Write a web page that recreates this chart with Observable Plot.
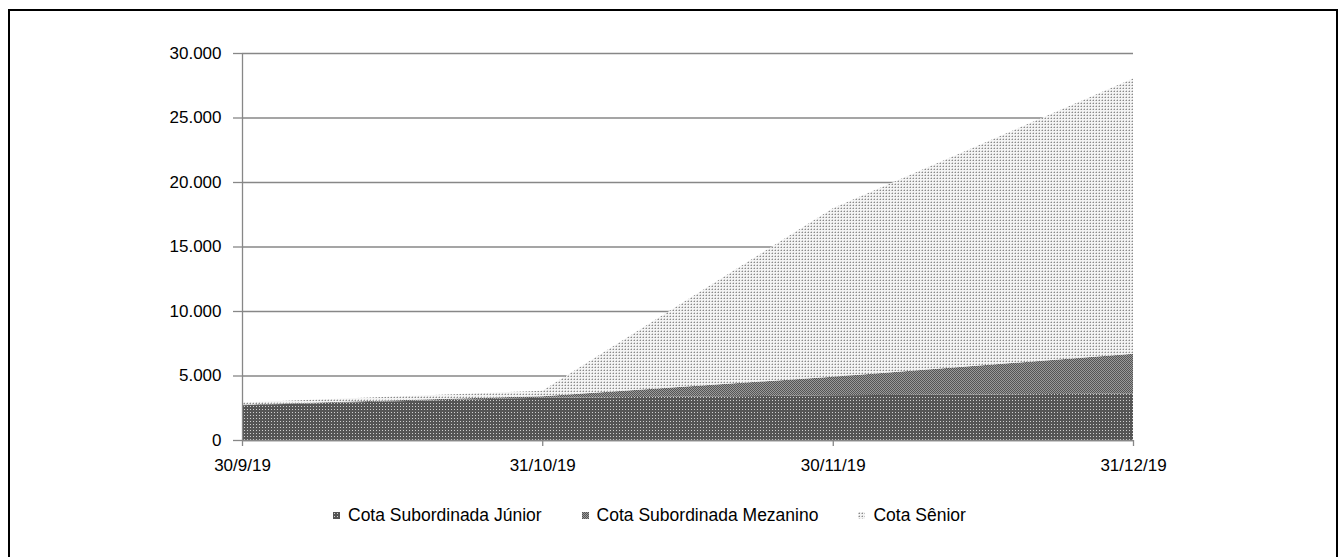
<!DOCTYPE html>
<html><head><meta charset="utf-8">
<script src="https://cdn.jsdelivr.net/npm/d3@7"></script>
<script src="https://cdn.jsdelivr.net/npm/@observablehq/plot@0.6"></script>
<style>
body{margin:0;background:#fff;font-family:"Liberation Sans",Arial,sans-serif;}
#wrap{position:relative;width:1338px;height:557px;overflow:hidden;background:#fff}
#frame{position:absolute;left:8px;top:9px;width:1326px;height:560px;border:2px solid #000;}
#chart{position:absolute;left:0;top:0}
#legend{position:absolute;top:505px;left:333px;display:flex;gap:40px;font-size:17.5px;color:#000;line-height:20px;white-space:nowrap}
.item{display:flex;align-items:center;gap:8px}
.item svg{display:block}
</style></head>
<body>
<svg width="0" height="0" style="position:absolute">
  <defs>
    <pattern id="pJ" width="3" height="3" patternUnits="userSpaceOnUse">
      <rect width="3" height="3" fill="#555555"/>
      <rect x="1" y="1" width="1" height="1" fill="#cfcfcf"/>
    </pattern>
    <pattern id="pM" width="2" height="2" patternUnits="userSpaceOnUse">
      <rect width="2" height="2" fill="#9a9a9a"/>
      <rect x="0" y="0" width="1" height="1" fill="#555555"/>
      <rect x="1" y="1" width="1" height="1" fill="#555555"/>
    </pattern>
    <pattern id="pS" width="3" height="3" patternUnits="userSpaceOnUse">
      <rect width="3" height="3" fill="#f4f4f4"/>
      <rect x="1" y="1" width="1" height="1" fill="#8a8a8a"/>
      <rect x="0" y="1" width="1" height="1" fill="#c4c4c4"/>
      <rect x="1" y="0" width="1" height="1" fill="#d0d0d0"/>
    </pattern>
  </defs>
</svg>
<div id="wrap">
  <div id="frame"></div>
  <div id="chart"></div>
  <div id="legend"></div>
</div>
<script>
// ---- data ----
const dates = ["2019-09-30", "2019-10-31", "2019-11-30", "2019-12-31"];
const xTickLabels = ["30/9/19", "31/10/19", "30/11/19", "31/12/19"];
const series = ["Cota Subordinada Júnior", "Cota Subordinada Mezanino", "Cota Sênior"];
const junior   = [2700, 3280, 3460, 3600];
const mezanino = [50, 120, 1450, 3080];
const senior   = [150, 420, 13050, 21350];
const yTicks = [0, 5000, 10000, 15000, 20000, 25000, 30000];
const patterns = ["url(#pJ)", "url(#pM)", "url(#pS)"];

const parse = d3.utcParse("%Y-%m-%d");
const xDates = dates.map(parse);
const cols = [junior, mezanino, senior];
const data = series.flatMap((s, i) => xDates.map((d, j) => ({date: d, serie: s, value: cols[i][j]})));
const fmt = d3.formatLocale({decimal: ",", thousands: ".", grouping: [3], currency: ["R$", ""]}).format(",d");
const xfmt = d => xTickLabels[xDates.findIndex(x => +x === +d)];
const gray = "#878787";

const chart = Plot.plot({
  width: 1338, height: 480,
  marginLeft: 242, marginRight: 205, marginTop: 53, marginBottom: 40,
  style: {fontFamily: '"Liberation Sans", Arial, sans-serif', fontSize: "17px", color: "#000", background: "transparent"},
  x: {type: "utc", domain: [xDates[0], xDates[xDates.length - 1]]},
  y: {domain: [0, 30000]},
  color: {domain: series, range: patterns},
  marks: [
    Plot.gridY(yTicks, {stroke: gray, strokeOpacity: 1, strokeWidth: 1.3}),
    Plot.areaY(data, {x: "date", y: "value", z: "serie", fill: "serie"}),
    Plot.ruleX([xDates[0]], {stroke: gray, strokeWidth: 1.3}),
    Plot.ruleY([0], {stroke: gray, strokeWidth: 1.3}),
    Plot.axisY(yTicks, {tickSize: 9, tickPadding: 12, tickFormat: fmt, stroke: gray, strokeWidth: 1.3, fill: "#000", label: null}),
    Plot.axisX(xDates, {tickSize: 6, tickPadding: 12, tickFormat: xfmt, stroke: gray, strokeWidth: 1.3, fill: "#000", label: null})
  ]
});
document.getElementById("chart").appendChild(chart);

// legend
const leg = document.getElementById("legend");
series.forEach((s, i) => {
  const it = document.createElement("div");
  it.className = "item";
  it.innerHTML = `<svg width="7" height="7"><rect width="7" height="7" fill="${patterns[i]}"/></svg><span>${s}</span>`;
  leg.appendChild(it);
});
</script>
</body></html>
